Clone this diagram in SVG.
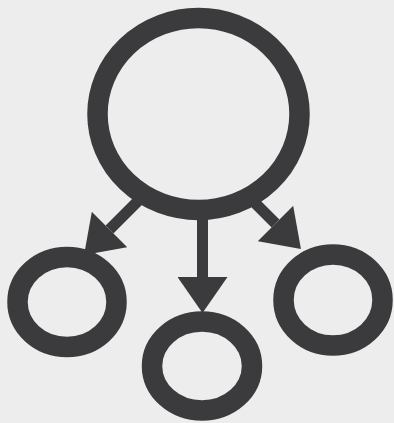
<svg xmlns="http://www.w3.org/2000/svg" width="394" height="423" viewBox="0 0 394 423">
<style>
.ring{fill:none;stroke:#3b3b3d;stroke-width:20.5}
.conn{stroke:#3b3b3d;stroke-width:11;fill:none;marker-end:url(#ah)}
</style>
<defs>
<marker id="ah" viewBox="0 0 36 50" refX="0" refY="25" markerWidth="36" markerHeight="50" markerUnits="userSpaceOnUse" orient="auto">
<path d="M0,0 L36,25 L0,50 Z" fill="#3b3b3d"/>
</marker>
</defs>
<rect width="394" height="423" fill="#ededed"/>
<g id="connectors">
<line class="conn" x1="141" y1="198" x2="109.5" y2="229.5"/>
<line class="conn" x1="202.5" y1="212" x2="202.5" y2="277"/>
<line class="conn" x1="244" y1="192" x2="275.5" y2="223.5"/>
</g>
<g id="node-root"><ellipse class="ring" cx="198.5" cy="114" rx="101" ry="96"/></g>
<g id="node-left"><ellipse class="ring" cx="67" cy="302" rx="49.5" ry="45"/></g>
<g id="node-middle"><ellipse class="ring" cx="202" cy="366" rx="50" ry="44.5"/></g>
<g id="node-right"><ellipse class="ring" cx="333" cy="300" rx="49.5" ry="45.5"/></g>
</svg>
